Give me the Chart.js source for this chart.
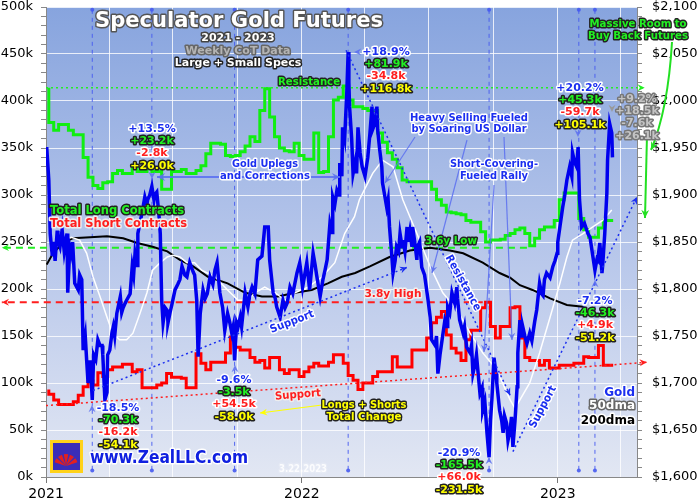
<!DOCTYPE html>
<html>
<head>
<meta charset="utf-8">
<script src="https://cdn.jsdelivr.net/npm/chart.js@4.4.1/dist/chart.umd.min.js"></script>
<style>
    html, body { margin: 0; padding: 0; background: #fff; }
    #wrap { width: 700px; height: 500px; }
</style>
</head>
<body>
<div id="wrap"><canvas id="cotChart" width="700" height="500"></canvas></div>
<script>
// x values are days after Jan 1 2021
// weekly CoT reports, Tue Jan 5 2021 .. Tue Mar 21 2023, thousands of contracts
const firstReportDay = 4;
const longs = [
    414, 377, 369, 375, 375, 369, 364, 364, 340, 319,
    310, 307, 313, 314, 323, 326, 323, 323, 329, 325,
    325, 328, 325, 325, 306, 306, 325, 325, 327, 323,
    323, 326, 331, 344, 355, 355, 354, 342, 341, 342,
    346, 352, 362, 357, 390, 413, 383, 362, 350, 347,
    346, 355, 342, 338, 338, 366, 324, 325, 362, 401,
    404, 416, 401, 394, 394, 392, 390, 390, 366, 356,
    345, 338, 329, 316, 314, 314, 314, 314, 314, 306,
    295, 289, 282, 281, 280, 279, 273, 271, 271, 261,
    250, 252, 252, 253, 257, 259, 263, 265, 259, 246,
    254, 263, 266, 266, 273, 295, 302, 302, 302, 275,
    263, 255, 255, 265, 273, 273,
];
const shorts = [
    93, 88, 82, 77, 77, 77, 80, 87, 96, 102,
    98, 111, 107, 114, 117, 117, 120, 120, 112, 114,
    95, 95, 95, 98, 100, 110, 106, 106, 105, 95,
    95, 131, 121, 114, 122, 122, 122, 132, 149, 138,
    135, 135, 127, 122, 124, 116, 127, 127, 114, 110,
    114, 114, 107, 112, 117, 121, 118, 118, 122, 130,
    130, 121, 108, 103, 93, 100, 100, 107, 112, 112,
    112, 128, 117, 117, 117, 135, 135, 135, 148, 164,
    170, 176, 151, 137, 132, 124, 146, 156, 156, 180,
    186, 160, 148, 160, 160, 180, 181, 148, 127, 124,
    124, 119, 124, 116, 116, 119, 119, 119, 121, 121,
    128, 127, 127, 140, 119, 119,
];

// gold, $/oz
const goldDays = [
    1, 4, 6, 9, 11, 13, 16, 17, 20, 23,
    26, 29, 30, 31, 34, 37, 38, 41, 46, 48,
    51, 53, 56, 58, 60, 63, 66, 68, 71, 74,
    77, 80, 81, 84, 87, 88, 91, 94, 96, 98,
    101, 106, 108, 110, 113, 115, 120, 123, 125, 127,
    130, 131, 134, 137, 141, 144, 145, 148, 151, 154,
    155, 158, 161, 163, 165, 167, 170, 173, 174, 177,
    180, 184, 188, 191, 194, 198, 201, 205, 210, 212,
    215, 217, 220, 224, 227, 230, 234, 238, 241, 244,
    248, 252, 255, 259, 262, 265, 267, 269, 272, 274,
    277, 279, 284, 288, 291, 294, 298, 302, 308, 312,
    317, 319, 324, 327, 329, 334, 338, 341, 344, 348,
    352, 358, 362, 366, 369, 372, 376, 381, 384, 386,
    391, 395, 398, 401, 405, 408, 409, 412, 415, 418,
    419, 422, 423, 426, 429, 431, 432, 433, 436, 438,
    441, 443, 445, 448, 451, 455, 459, 462, 465, 466,
    469, 472, 473, 476, 479, 480, 483, 486, 488, 490,
    493, 495, 498, 500, 503, 505, 508, 509, 512, 515,
    516, 519, 522, 523, 526, 529, 530, 533, 536, 540,
    545, 548, 550, 555, 557, 559, 562, 565, 569, 572,
    573, 576, 579, 583, 586, 587, 590, 595, 597, 600,
    605, 607, 609, 612, 614, 619, 622, 623, 626, 629,
    632, 634, 636, 639, 642, 643, 647, 650, 652, 654,
    657, 659, 662, 664, 666, 669, 672, 673, 676, 679,
    680, 683, 686, 690, 693, 694, 697, 700, 704, 707,
    709, 711, 714, 719, 723, 726, 729, 730, 733, 737,
    740, 743, 747, 750, 751, 754, 757, 759, 761, 764,
    768, 773, 776, 778, 783, 786, 787, 790, 793, 794,
    797, 800, 801, 804, 807, 808,
];
const goldPrice = [
    1951, 1916, 1859, 1835, 1850, 1830, 1862, 1852, 1845, 1863,
    1840, 1855, 1859, 1796, 1845, 1835, 1850, 1806, 1799, 1815,
    1810, 1735, 1750, 1724, 1700, 1724, 1682, 1730, 1725, 1746,
    1740, 1740, 1730, 1682, 1690, 1730, 1735, 1753, 1760, 1750,
    1774, 1792, 1775, 1780, 1785, 1788, 1795, 1824, 1815, 1838,
    1825, 1859, 1870, 1881, 1898, 1890, 1895, 1900, 1909, 1895,
    1900, 1903, 1880, 1859, 1788, 1764, 1780, 1777, 1764, 1775,
    1785, 1799, 1805, 1810, 1824, 1815, 1813, 1828, 1818, 1815,
    1788, 1728, 1774, 1799, 1790, 1795, 1813, 1805, 1820, 1828,
    1796, 1780, 1756, 1774, 1765, 1753, 1760, 1724, 1764, 1760,
    1770, 1760, 1796, 1781, 1795, 1802, 1795, 1831, 1835, 1866,
    1866, 1831, 1796, 1790, 1781, 1770, 1788, 1780, 1785, 1802,
    1795, 1817, 1828, 1802, 1815, 1828, 1799, 1838, 1825, 1815,
    1792, 1810, 1820, 1831, 1870, 1860, 1898, 1890, 1905, 1900,
    1934, 1920, 1972, 1960, 2008, 2052, 2020, 1994, 1960, 1923,
    1935, 1923, 1972, 1945, 1930, 1920, 1940, 1965, 1994, 1970,
    1976, 1994, 1970, 1948, 1930, 1913, 1900, 1887, 1895, 1866,
    1838, 1817, 1830, 1845, 1840, 1859, 1845, 1852, 1840, 1866,
    1850, 1862, 1845, 1866, 1850, 1831, 1845, 1850, 1823, 1815,
    1788, 1770, 1746, 1740, 1750, 1710, 1730, 1746, 1767, 1760,
    1781, 1775, 1796, 1785, 1802, 1790, 1767, 1753, 1760, 1738,
    1732, 1740, 1710, 1720, 1730, 1689, 1695, 1671, 1680, 1647,
    1621, 1660, 1682, 1727, 1710, 1700, 1671, 1660, 1647, 1665,
    1657, 1639, 1650, 1664, 1632, 1660, 1696, 1732, 1767, 1750,
    1760, 1750, 1742, 1753, 1745, 1750, 1765, 1778, 1806, 1795,
    1793, 1810, 1817, 1812, 1824, 1830, 1838, 1850, 1866, 1887,
    1900, 1916, 1930, 1920, 1945, 1935, 1930, 1951, 1895, 1866,
    1870, 1859, 1855, 1845, 1820, 1832, 1831, 1849, 1817, 1825,
    1859, 1902, 1937, 1976, 1966, 1940,
];

const ma50Days = [
    6, 20, 36, 48, 58, 67, 77, 87, 95, 105,
    115, 124, 134, 144, 152, 163, 173, 181, 191, 201,
    212, 222, 241, 259, 274, 288, 298, 312, 327, 341,
    355, 374, 394, 412, 426, 440, 447, 466, 480, 495,
    509, 529, 548, 566, 586, 605, 623, 643, 662, 669,
    676, 690, 704, 719, 733, 743, 751, 766, 780, 794,
    807,
];
const ma50 = [
    1838, 1849, 1855, 1852, 1838, 1813, 1792, 1770, 1753, 1746,
    1746, 1753, 1774, 1796, 1820, 1828, 1834, 1836, 1834, 1828,
    1828, 1820, 1813, 1799, 1788, 1788, 1796, 1802, 1796, 1788,
    1796, 1802, 1813, 1828, 1859, 1877, 1895, 1923, 1937, 1930,
    1895, 1859, 1824, 1796, 1778, 1753, 1732, 1714, 1682, 1673,
    1682, 1700, 1732, 1770, 1806, 1834, 1852, 1859, 1866, 1873,
    1884,
];
const ma200Days = [
    1, 10, 24, 38, 63, 87, 110, 130, 152, 173,
    191, 210, 231, 259, 284, 308, 331, 355, 379, 402,
    422, 441, 462, 490, 519, 548, 576, 595, 623, 647,
    662, 676, 694, 719, 743, 766,
];
const ma200 = [
    1826, 1838, 1849, 1854, 1855, 1856, 1854, 1849, 1845, 1840,
    1831, 1824, 1813, 1806, 1796, 1792, 1792, 1796, 1799, 1806,
    1813, 1817, 1824, 1834, 1841, 1844, 1841, 1838, 1828, 1817,
    1812, 1804, 1799, 1790, 1783, 1781,
];

const yearTicks = [0, 365, 730];
const yearLabels = ["2021", "2022", "2023"];
const quarterTicks = [0, 90, 181, 273, 365, 455, 546, 638, 730, 820];
const eventDays = [66, 151, 269, 431, 632, 760, 783];

const reportDays = longs.map((v, i) => firstReportDay + i * 7);
const pts = (xs, ys) => ys.map((y, i) => ({ x: xs[i], y: y }));

const BLUE = "#1b2ff0";
const GREEN = "#22f022";
const RED = "#ff1e1e";
const YELLOW = "#ffff00";
const FONT = '"DejaVu Sans"';

function txt(c, s, x, y, fill, halo, size, align, maxW) {
    c.font = "bold " + size + "px " + FONT;
    c.textAlign = align || "center";
    c.textBaseline = "middle";
    c.lineJoin = "round";
    c.lineWidth = 3;
    c.strokeStyle = halo;
    c.fillStyle = fill;
    if (maxW) {
        c.strokeText(s, x, y, maxW);
        c.fillText(s, x, y, maxW);
    } else {
        c.strokeText(s, x, y);
        c.fillText(s, x, y);
    }
}

function head(c, x1, y1, x2, y2, color, size) {
    const a = Math.atan2(y2 - y1, x2 - x1);
    c.fillStyle = color;
    c.beginPath();
    c.moveTo(x2, y2);
    c.lineTo(x2 - size * Math.cos(a - 0.45), y2 - size * Math.sin(a - 0.45));
    c.lineTo(x2 - size * 0.6 * Math.cos(a), y2 - size * 0.6 * Math.sin(a));
    c.lineTo(x2 - size * Math.cos(a + 0.45), y2 - size * Math.sin(a + 0.45));
    c.closePath();
    c.fill();
}

function seg(c, x1, y1, x2, y2, color, width, dash, arrow) {
    c.save();
    c.strokeStyle = color;
    c.lineWidth = width;
    c.setLineDash(dash || []);
    c.beginPath();
    c.moveTo(x1, y1);
    c.lineTo(x2, y2);
    c.stroke();
    c.setLineDash([]);
    if (arrow) head(c, x1, y1, x2, y2, color, arrow);
    c.restore();
}

const decor = {
    id: "decor",
    beforeDraw(chart) {
        const c = chart.ctx;
        const a = chart.chartArea;
        const g = c.createLinearGradient(0, a.top, 0, a.bottom);
        g.addColorStop(0, "#87a4de");
        g.addColorStop(0.5, "#b5c5ea");
        g.addColorStop(1, "#e2e7f3");
        c.save();
        c.fillStyle = g;
        c.fillRect(a.left, a.top, a.right - a.left, a.bottom - a.top);
        c.restore();
    },
    beforeDatasetsDraw(chart) {
        const c = chart.ctx;
        const X = (d) => chart.scales.x.getPixelForValue(d);
        const Y = (k) => chart.scales.y.getPixelForValue(k);
        const evColor = "rgba(70,90,240,0.9)";
        eventDays.forEach((d) => {
            const x = X(d);
            seg(c, x, Y(497), x, Y(7), evColor, 1, [4, 4]);
            c.fillStyle = evColor;
            [Y(497), Y(7)].forEach((y) => {
                c.beginPath();
                c.arc(x, y, 2, 0, Math.PI * 2);
                c.fill();
            });
        });
        // levels
        seg(c, X(0), Y(414), X(854), Y(414), GREEN, 1.5, [2, 3], 8);
        seg(c, X(686), Y(244), X(-63), Y(244), GREEN, 2, [7, 5], 8);
        seg(c, X(623), Y(186), X(-63), Y(186), RED, 2, [7, 5], 8);
    },
    afterDatasetsDraw(chart) {
        const c = chart.ctx;
        const X = (d) => chart.scales.x.getPixelForValue(d);
        const Y = (k) => chart.scales.y.getPixelForValue(k);
        // trendlines
        seg(c, X(0), Y(76), X(857), Y(122), RED, 1.5, [2, 3], 8);
        seg(c, X(67), Y(92), X(515), Y(223), BLUE, 1.5, [2, 3], 8);
        seg(c, X(428), Y(454), X(662), Y(87), BLUE, 1.5, [2, 3], 8);
        seg(c, X(666), Y(27), X(843), Y(298), BLUE, 1.5, [2, 3], 8);
    },
    afterDraw(chart) {
        const c = chart.ctx;
        c.save();
        const pale = "rgba(90,110,240,0.85)";

        // pointer lines
        seg(c, 157, 177, 340, 177, pale, 1.5, null, 9);
        seg(c, 340, 177, 157, 177, pale, 1.5, null, 9);
        seg(c, 415, 137, 385, 183, pale, 1.2, null, 8);
        seg(c, 467, 140, 432, 273, pale, 1.2, null, 8);
        seg(c, 494, 185, 484, 352, pale, 1.2, null, 8);
        seg(c, 504, 137, 512, 340, pale, 1.2, null, 8);
        seg(c, 322, 405, 260, 413, YELLOW, 1.2, null, 8);
        seg(c, 647, 135, 645, 218, "#22e022", 2, null, 9);
        c.strokeStyle = "#22e022";
        c.lineWidth = 2;
        c.beginPath();
        c.moveTo(672, 42);
        c.quadraticCurveTo(668, 110, 651, 150);
        c.stroke();
        head(c, 660, 132, 651, 150, "#22e022", 9);

        // little arrowheads at the event lines
        head(c, 152, 170, 152, 179, pale, 8);
        head(c, 364, 52, 354, 52, pale, 8);
        head(c, 92, 414, 92, 405, pale, 8);
        head(c, 235, 374, 235, 365, pale, 8);
        head(c, 489, 466, 489, 457, pale, 8);
        head(c, 578, 128, 578, 137, pale, 8);
        head(c, 612, 103, 612, 112, "#999", 8);
        head(c, 595, 289, 595, 280, pale, 8);

        // title
        txt(c, "Speculator Gold Futures", 239, 21, "#fff", "#555", 22, "center", 288);
        txt(c, "2021 - 2023", 238, 38, "#fff", "#444", 11);
        txt(c, "Weekly CoT Data", 238, 51, "#b4b4b4", "#666", 11);
        txt(c, "Large + Small Specs", 238, 63, "#fff", "#222", 11);

        txt(c, "Resistance", 309, 82, GREEN, "#222", 11, "center", 62);
        txt(c, "Total Long Contracts", 50, 211, GREEN, "#222", 12, "left", 134);
        txt(c, "Total Short Contracts", 50, 224, RED, "#eee", 12, "left", 137);
        txt(c, "Gold Uplegs", 265, 164, BLUE, "#fff", 11, "center", 66);
        txt(c, "and Corrections", 265, 176, BLUE, "#fff", 11, "center", 90);
        txt(c, "Heavy Selling Fueled", 469, 118, BLUE, "#fff", 11, "center", 118);
        txt(c, "by Soaring US Dollar", 469, 129, BLUE, "#fff", 11, "center", 115);
        txt(c, "Short-Covering-", 494, 164, BLUE, "#fff", 11, "center", 88);
        txt(c, "Fueled Rally", 494, 176, BLUE, "#fff", 11, "center", 68);
        txt(c, "3.6y Low", 451, 241, GREEN, "#222", 11, "center", 52);
        txt(c, "3.8y High", 393, 294, RED, "#eee", 11, "center", 57);
        txt(c, "Longs + Shorts", 364, 405, YELLOW, "#222", 11, "center", 85);
        txt(c, "Total Change", 364, 417, YELLOW, "#222", 11, "center", 75);
        txt(c, "Massive Room to", 638, 24, GREEN, "#222", 11, "center", 97);
        txt(c, "Buy Back Futures", 638, 36, GREEN, "#222", 11, "center", 100);
        txt(c, "Gold", 635, 393, BLUE, "#fff", 12, "right");
        txt(c, "50dma", 635, 406, "#fff", "#666", 12, "right");
        txt(c, "200dma", 635, 421, "#000", "#fff", 12, "right");

        // rotated trendline tags
        const rot = (s, x, y, ang, fill, halo, w) => {
            c.save();
            c.translate(x, y);
            c.rotate(ang);
            txt(c, s, 0, 0, fill, halo, 11, "center", w);
            c.restore();
        };
        rot("Support", 292, 322, -0.37, BLUE, "#fff", 46);
        rot("Support", 298, 395, -0.08, RED, "#eee", 46);
        rot("Resistance", 463, 283, 1.06, BLUE, "#fff", 62);
        rot("Support", 543, 407, -1.08, BLUE, "#fff", 46);

        // change blocks: gold %, longs, shorts, total
        const G = [GREEN, "#222"], R = [RED, "#fff"], Yl = [YELLOW, "#222"], B = [BLUE, "#fff"], W = ["#c4c4c4", "#777"];
        const blocks = [
            [118, 408, [["-18.5%", B], ["-70.3k", G], ["-16.2k", R], ["-54.1k", Yl]]],
            [152, 129, [["+13.5%", B], ["+23.2k", G], ["-2.8k", R], ["+26.0k", Yl]]],
            [234, 380, [["-9.6%", B], ["-3.5k", G], ["+54.5k", R], ["-58.0k", Yl]]],
            [386, 52, [["+18.9%", B], ["+81.9k", G], ["-34.8k", R], ["+116.8k", Yl]]],
            [459, 453, [["-20.9%", B], ["-165.5k", G], ["+66.0k", R], ["-231.5k", Yl]]],
            [580, 88, [["+20.2%", B], ["+45.3k", G], ["-59.7k", R], ["+105.1k", Yl]]],
            [637, 99, [["+9.2%", W], ["+18.5k", W], ["-7.6k", W], ["+26.1k", W]]],
            [595, 301, [["-7.2%", B], ["-46.3k", G], ["+4.9k", R], ["-51.2k", Yl]]],
        ];
        blocks.forEach(([x, y, lines]) => {
            lines.forEach(([s, col], i) => txt(c, s, x, y + i * 12.3, col[0], col[1], 11));
        });

        // logo + site
        c.fillStyle = "#ffd21a";
        c.fillRect(50, 440, 33, 33);
        c.fillStyle = "#3a2db8";
        c.fillRect(53, 443, 27, 27);
        c.fillStyle = "#e02020";
        for (let i = 0; i < 5; i++) {
            c.beginPath();
            c.moveTo(66, 466);
            c.arc(66, 466, 12, Math.PI * (1.1 + i * 0.17), Math.PI * (1.22 + i * 0.17));
            c.closePath();
            c.fill();
        }
        txt(c, "www.ZealLLC.com", 90, 459, "#1020e0", "#fff", 17, "left", 158);
        c.globalAlpha = 0.85;
        txt(c, "3.22.2023", 303, 469, "#fff", "rgba(255,255,255,0.2)", 11, "center", 48);
        c.restore();
    },
};

// pin the plot box to where it sits in the picture
function fixVertical(width) {
    return (scale) => {
        scale.width = width;
        scale.paddingTop = 0;
        scale.paddingBottom = 0;
    };
}

new Chart(document.getElementById("cotChart"), {
    type: "line",
    data: {
        datasets: [
            {
                label: "Gold",
                data: pts(goldDays, goldPrice),
                yAxisID: "y2",
                borderColor: "#0000ee",
                borderWidth: 3.5,
                pointRadius: 0,
                order: 0,
            },
            {
                label: "50dma",
                data: pts(ma50Days, ma50),
                yAxisID: "y2",
                borderColor: "#ffffff",
                borderWidth: 1.5,
                pointRadius: 0,
                order: 1,
            },
            {
                label: "200dma",
                data: pts(ma200Days, ma200),
                yAxisID: "y2",
                borderColor: "#000000",
                borderWidth: 2,
                pointRadius: 0,
                order: 2,
            },
            {
                label: "Total Long Contracts",
                data: pts(reportDays, longs),
                yAxisID: "y",
                borderColor: "#11ee11",
                borderWidth: 3,
                stepped: "after",
                pointRadius: 0,
                order: 3,
            },
            {
                label: "Total Short Contracts",
                data: pts(reportDays, shorts),
                yAxisID: "y",
                borderColor: "#ff0000",
                borderWidth: 3,
                stepped: "after",
                pointRadius: 0,
                order: 4,
            },
        ],
    },
    plugins: [decor],
    options: {
        responsive: false,
        animation: false,
        devicePixelRatio: 1,
        layout: { padding: { top: 7 } },
        plugins: {
            legend: { display: false },
            tooltip: { enabled: false },
        },
        scales: {
            x: {
                type: "linear",
                min: 0,
                max: 843,
                afterBuildTicks: (scale) => {
                    scale.ticks = quarterTicks.map((v) => ({ value: v }));
                },
                afterFit: (scale) => {
                    scale.height = 23;
                    scale.paddingLeft = 0;
                    scale.paddingRight = 0;
                },
                ticks: {
                    autoSkip: false,
                    maxRotation: 0,
                    padding: 3,
                    color: "#000",
                    font: { family: "DejaVu Sans", size: 14 },
                    callback: (v) => {
                        const i = yearTicks.indexOf(v);
                        return i >= 0 ? yearLabels[i] : "";
                    },
                },
                grid: {
                    color: "rgba(255,255,255,0.8)",
                    tickLength: 6,
                    tickColor: (ctx) => (ctx.tick && yearTicks.includes(ctx.tick.value) ? "#777" : "rgba(0,0,0,0)"),
                },
                border: { color: "#888" },
            },
            y: {
                position: "left",
                min: 0,
                max: 500,
                afterFit: fixVertical(46),
                ticks: {
                    stepSize: 10,
                    autoSkip: false,
                    padding: 8,
                    color: "#000",
                    font: { family: "DejaVu Sans", size: 13 },
                    callback: (v) => (v % 50 === 0 ? v + "k" : ""),
                },
                grid: {
                    color: (ctx) => (ctx.tick && ctx.tick.value % 50 === 0 ? "rgba(255,255,255,0.8)" : "rgba(0,0,0,0)"),
                    tickColor: "#888",
                    tickLength: 5,
                },
                border: { color: "#888" },
            },
            y2: {
                position: "right",
                min: 1600,
                max: 2100,
                afterFit: fixVertical(63),
                ticks: {
                    stepSize: 10,
                    autoSkip: false,
                    padding: 10,
                    color: "#000",
                    font: { family: "DejaVu Sans", size: 13 },
                    callback: (v) => (v % 50 === 0 ? "$" + v.toLocaleString("en-US") : ""),
                },
                grid: {
                    drawOnChartArea: false,
                    tickColor: "#888",
                    tickLength: 5,
                },
                border: { color: "#888" },
            },
        },
    },
});
</script>
</body>
</html>
